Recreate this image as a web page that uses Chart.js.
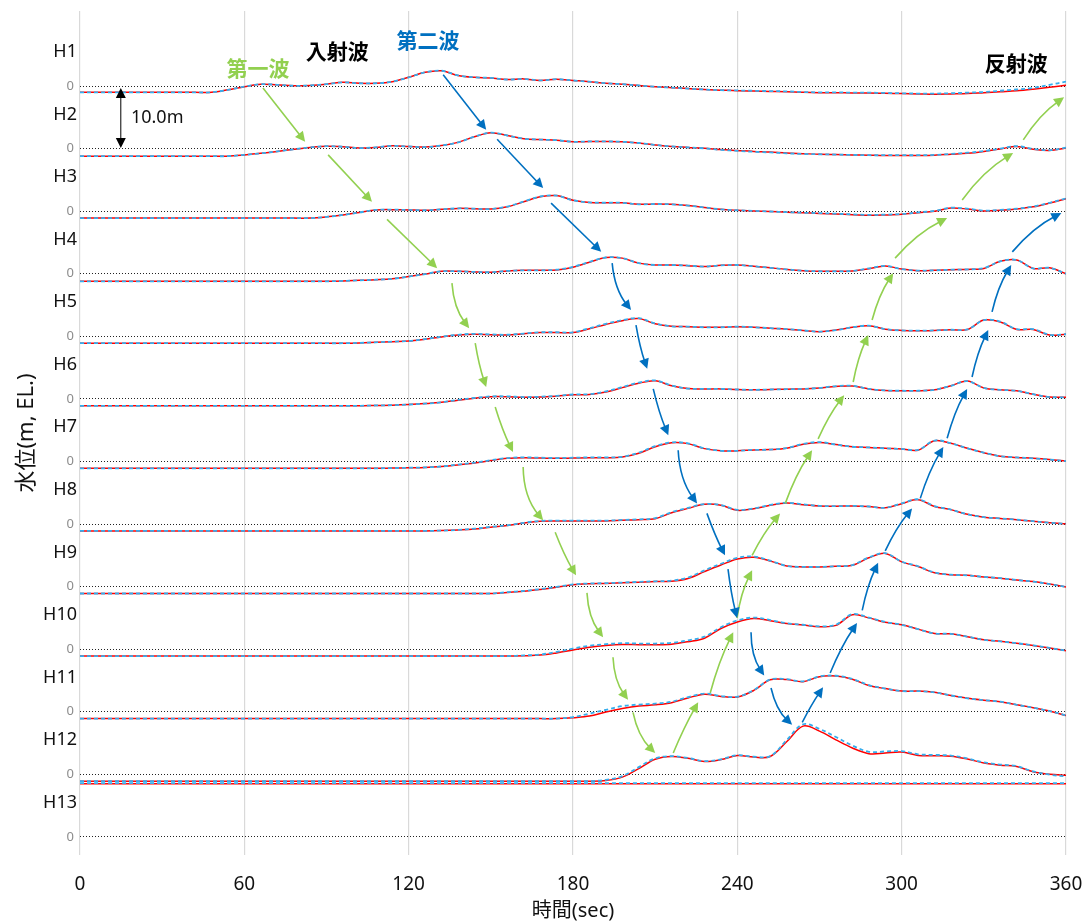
<!DOCTYPE html>
<html>
<head>
<meta charset="utf-8">
<script src="https://cdn.jsdelivr.net/npm/chart.js@4.4.1/dist/chart.umd.min.js"></script>
<style>
  body { margin: 0; background: #fff; }
  #wrap { width: 1084px; height: 923px; }
</style>
</head>
<body>
<div id="wrap"><canvas id="chart"></canvas></div>
<script>
const times = [
  0, 6, 12, 18, 24, 30, 36, 42, 48, 54,
  60, 66, 72, 78, 84, 90, 96, 102, 108, 114,
  120, 126, 132, 138, 144, 150, 156, 162, 168, 174,
  180, 186, 192, 198, 204, 210, 216, 222, 228, 234,
  240, 246, 252, 258, 264, 270, 276, 282, 288, 294,
  300, 306, 312, 318, 324, 330, 336, 342, 348, 354,
  360
];

const stations = ["H1", "H2", "H3", "H4", "H5", "H6", "H7", "H8", "H9", "H10", "H11", "H12", "H13"];
const offsets = [0, -10, -20, -30, -40, -50, -60, -70, -80, -90, -100, -110, -120];

const h1Red = [
  -1.0, -1.0, -1.0, -1.0, -1.0, -1.0, -1.0, -1.0, -1.0, -0.6,
  -0.1, 0.3, 0.2, 0.05, 0.1, 0.3, 0.6, 0.45, 0.45, 0.7,
  1.4, 2.2, 2.45, 1.7, 1.4, 1.3, 1.05, 1.15, 0.9, 1.1,
  0.9, 0.7, 0.45, 0.3, 0.1, -0.1, -0.25, -0.4, -0.55, -0.65,
  -0.75, -0.8, -0.85, -0.9, -1.0, -1.05, -1.05, -1.1, -1.1, -1.15,
  -1.2, -1.25, -1.3, -1.25, -1.2, -1.05, -0.9, -0.75, -0.5, -0.2,
  0.15
];
const h1Blue = [
  -1.0, -1.0, -1.0, -1.0, -1.0, -1.0, -1.0, -1.0, -1.0, -0.6,
  -0.1, 0.3, 0.2, 0.05, 0.1, 0.3, 0.6, 0.45, 0.45, 0.7,
  1.4, 2.2, 2.45, 1.7, 1.4, 1.3, 1.05, 1.15, 0.9, 1.1,
  0.9, 0.7, 0.45, 0.3, 0.1, -0.1, -0.25, -0.4, -0.55, -0.65,
  -0.7, -0.75, -0.8, -0.85, -0.95, -1.0, -1.0, -1.05, -1.05, -1.1,
  -1.15, -1.2, -1.2, -1.15, -1.05, -0.95, -0.75, -0.55, -0.3, 0.2,
  0.7
];
const h2Red = [
  -1.2, -1.2, -1.2, -1.2, -1.2, -1.2, -1.2, -1.2, -1.2, -1.2,
  -1.0, -0.75, -0.45, -0.1, 0.2, 0.4, 0.3, 0.1, 0.2, 0.45,
  0.35, 0.25, 0.5, 1.0, 1.9, 2.55, 2.1, 1.6, 1.45, 1.35,
  1.1, 1.15, 1.15, 1.1, 0.9, 0.6, 0.35, 0.2, 0.05, -0.15,
  -0.3, -0.45, -0.55, -0.7, -0.8, -0.9, -0.95, -1.0, -1.05, -1.1,
  -1.1, -1.1, -1.05, -0.9, -0.75, -0.45, -0.05, 0.35, -0.1, -0.3,
  0.1
];
const h2Blue = [
  -1.2, -1.2, -1.2, -1.2, -1.2, -1.2, -1.2, -1.2, -1.2, -1.2,
  -1.0, -0.75, -0.45, -0.1, 0.2, 0.4, 0.3, 0.1, 0.2, 0.45,
  0.35, 0.25, 0.5, 1.0, 1.9, 2.55, 2.1, 1.6, 1.45, 1.35,
  1.1, 1.15, 1.15, 1.1, 0.9, 0.6, 0.35, 0.2, 0.05, -0.2,
  -0.35, -0.5, -0.6, -0.75, -0.85, -0.9, -0.95, -1.0, -1.05, -1.05,
  -1.05, -1.05, -1.0, -0.85, -0.65, -0.4, 0.0, 0.4, -0.05, -0.25,
  0.15
];
const h3Red = [
  -1.1, -1.1, -1.1, -1.1, -1.1, -1.1, -1.1, -1.1, -1.1, -1.1,
  -1.1, -1.1, -1.1, -1.1, -1.1, -0.9, -0.6, -0.2, 0.2, 0.25,
  0.2, 0.15, 0.3, 0.45, 0.4, 0.35, 0.7, 1.5, 2.3, 2.5,
  1.75, 1.4, 1.35, 1.35, 1.1, 1.15, 1.1, 0.9, 0.6, 0.3,
  0.15, 0.05, -0.05, -0.15, -0.25, -0.35, -0.45, -0.55, -0.65, -0.6,
  -0.5, -0.25, 0.0, 0.5, 0.35, 0.05, 0.15, 0.35, 0.7, 1.3,
  2.0
];
const h3Blue = [
  -1.1, -1.1, -1.1, -1.1, -1.1, -1.1, -1.1, -1.1, -1.1, -1.1,
  -1.1, -1.1, -1.1, -1.1, -1.1, -0.9, -0.6, -0.2, 0.2, 0.25,
  0.2, 0.15, 0.3, 0.45, 0.4, 0.35, 0.75, 1.55, 2.35, 2.5,
  1.75, 1.4, 1.35, 1.35, 1.1, 1.15, 1.1, 0.9, 0.6, 0.3,
  0.15, 0.05, -0.05, -0.15, -0.25, -0.3, -0.4, -0.5, -0.6, -0.55,
  -0.45, -0.2, 0.05, 0.55, 0.4, 0.1, 0.2, 0.4, 0.75, 1.35,
  2.05
];
const h4Red = [
  -1.2, -1.2, -1.2, -1.2, -1.2, -1.2, -1.2, -1.2, -1.2, -1.2,
  -1.2, -1.2, -1.2, -1.2, -1.2, -1.2, -1.15, -1.05, -0.95, -0.8,
  -0.45, -0.05, 0.4, 0.4, 0.3, 0.25, 0.45, 0.55, 0.55, 0.6,
  1.05, 1.85, 2.6, 2.5, 1.7, 1.4, 1.4, 1.3, 1.15, 1.35,
  1.4, 1.2, 0.95, 0.7, 0.5, 0.4, 0.4, 0.45, 0.8, 1.25,
  0.75, 0.5, 0.55, 0.65, 0.7, 0.85, 2.0, 2.2, 0.85, 0.95,
  0.0
];
const h4Blue = [
  -1.2, -1.2, -1.2, -1.2, -1.2, -1.2, -1.2, -1.2, -1.2, -1.2,
  -1.2, -1.2, -1.2, -1.2, -1.2, -1.2, -1.15, -1.05, -0.95, -0.8,
  -0.45, -0.05, 0.4, 0.4, 0.3, 0.25, 0.45, 0.55, 0.55, 0.65,
  1.1, 1.9, 2.6, 2.5, 1.7, 1.4, 1.4, 1.3, 1.15, 1.35,
  1.4, 1.2, 0.95, 0.7, 0.5, 0.4, 0.4, 0.45, 0.85, 1.25,
  0.75, 0.5, 0.55, 0.65, 0.7, 0.9, 2.0, 2.2, 0.85, 0.95,
  0.0
];
const h5Red = [
  -1.1, -1.1, -1.1, -1.1, -1.1, -1.1, -1.1, -1.1, -1.1, -1.1,
  -1.1, -1.1, -1.1, -1.1, -1.1, -1.1, -1.1, -1.05, -0.95, -0.85,
  -0.75, -0.45, -0.1, 0.2, 0.35, 0.25, 0.2, 0.4, 0.6, 0.6,
  0.6, 1.2, 1.9, 2.5, 2.85, 2.0, 1.6, 1.55, 1.45, 1.45,
  1.55, 1.45, 1.3, 1.15, 0.95, 0.75, 1.0, 1.45, 1.7, 1.15,
  0.95, 0.9, 0.95, 1.05, 1.1, 2.6, 2.3, 1.1, 1.1, 0.2,
  0.35
];
const h5Blue = [
  -1.1, -1.1, -1.1, -1.1, -1.1, -1.1, -1.1, -1.1, -1.1, -1.1,
  -1.1, -1.1, -1.1, -1.1, -1.1, -1.1, -1.1, -1.05, -0.95, -0.85,
  -0.75, -0.45, -0.05, 0.25, 0.4, 0.3, 0.25, 0.45, 0.65, 0.65,
  0.65, 1.3, 2.0, 2.6, 2.9, 2.05, 1.6, 1.55, 1.45, 1.45,
  1.55, 1.45, 1.3, 1.15, 0.95, 0.75, 1.0, 1.45, 1.7, 1.15,
  0.95, 0.9, 0.95, 1.05, 1.1, 2.6, 2.35, 1.15, 1.15, 0.25,
  0.35
];
const h6Red = [
  -1.1, -1.1, -1.1, -1.1, -1.1, -1.1, -1.1, -1.1, -1.1, -1.1,
  -1.1, -1.1, -1.1, -1.1, -1.1, -1.1, -1.1, -1.1, -1.05, -1.0,
  -0.9, -0.75, -0.55, -0.2, 0.1, 0.35, 0.35, 0.25, 0.3, 0.45,
  0.65, 0.7, 1.1, 1.8, 2.5, 2.9, 2.1, 1.65, 1.6, 1.6,
  1.5, 1.45, 1.5, 1.55, 1.6, 1.75, 2.0, 2.05, 1.6, 1.35,
  1.3, 1.3, 1.45, 2.1, 2.85, 1.75, 1.45, 1.3, 0.75, 0.3,
  0.25
];
const h6Blue = [
  -1.1, -1.1, -1.1, -1.1, -1.1, -1.1, -1.1, -1.1, -1.1, -1.1,
  -1.1, -1.1, -1.1, -1.1, -1.1, -1.1, -1.1, -1.1, -1.05, -1.0,
  -0.9, -0.75, -0.55, -0.15, 0.15, 0.4, 0.4, 0.3, 0.35, 0.5,
  0.7, 0.75, 1.2, 1.9, 2.6, 2.95, 2.15, 1.65, 1.6, 1.6,
  1.5, 1.45, 1.5, 1.55, 1.6, 1.75, 2.05, 2.1, 1.6, 1.35,
  1.3, 1.3, 1.45, 2.1, 2.85, 1.75, 1.45, 1.3, 0.75, 0.3,
  0.25
];
const h7Red = [
  -1.1, -1.1, -1.1, -1.1, -1.1, -1.1, -1.1, -1.1, -1.1, -1.1,
  -1.1, -1.1, -1.1, -1.1, -1.1, -1.1, -1.1, -1.1, -1.1, -1.05,
  -1.0, -0.95, -0.8, -0.55, -0.25, 0.15, 0.5, 0.6, 0.55, 0.5,
  0.55, 0.6, 0.6, 0.7, 1.3, 2.35, 3.0, 2.85, 2.05, 1.7,
  1.7, 1.85, 1.9, 2.1, 2.75, 3.05, 2.7, 2.35, 2.25, 2.1,
  2.0, 1.8, 3.3, 2.9, 2.1, 1.4, 0.85, 0.65, 0.5, 0.3,
  0.05
];
const h7Blue = [
  -1.1, -1.1, -1.1, -1.1, -1.1, -1.1, -1.1, -1.1, -1.1, -1.1,
  -1.1, -1.1, -1.1, -1.1, -1.1, -1.1, -1.1, -1.1, -1.1, -1.05,
  -1.0, -0.95, -0.8, -0.5, -0.2, 0.2, 0.55, 0.65, 0.6, 0.55,
  0.6, 0.65, 0.65, 0.75, 1.4, 2.45, 3.05, 2.9, 2.1, 1.7,
  1.7, 1.85, 1.9, 2.15, 2.8, 3.1, 2.7, 2.35, 2.25, 2.1,
  2.0, 1.85, 3.35, 2.9, 2.1, 1.4, 0.85, 0.65, 0.5, 0.3,
  0.05
];
const h8Red = [
  -1.1, -1.1, -1.1, -1.1, -1.1, -1.1, -1.1, -1.1, -1.1, -1.1,
  -1.1, -1.1, -1.1, -1.1, -1.1, -1.1, -1.1, -1.1, -1.1, -1.1,
  -1.1, -1.1, -1.05, -0.95, -0.8, -0.5, -0.25, 0.15, 0.45, 0.5,
  0.5, 0.5, 0.5, 0.6, 0.7, 0.85, 1.8, 2.5, 3.15, 3.0,
  2.2, 2.45, 3.0, 3.35, 3.1, 2.9, 2.85, 2.9, 2.8, 2.6,
  3.25, 3.9, 2.8, 2.3, 1.55, 1.1, 0.9, 0.7, 0.45, 0.2,
  0.05
];
const h8Blue = [
  -1.1, -1.1, -1.1, -1.1, -1.1, -1.1, -1.1, -1.1, -1.1, -1.1,
  -1.1, -1.1, -1.1, -1.1, -1.1, -1.1, -1.1, -1.1, -1.1, -1.1,
  -1.1, -1.1, -1.05, -0.95, -0.75, -0.45, -0.2, 0.2, 0.5, 0.55,
  0.55, 0.55, 0.55, 0.65, 0.75, 0.95, 1.9, 2.6, 3.2, 3.05,
  2.25, 2.5, 3.05, 3.4, 3.15, 2.9, 2.85, 2.9, 2.8, 2.6,
  3.3, 3.95, 2.85, 2.3, 1.55, 1.1, 0.9, 0.7, 0.45, 0.2,
  0.05
];
const h9Red = [
  -1.1, -1.1, -1.1, -1.1, -1.1, -1.1, -1.1, -1.1, -1.1, -1.1,
  -1.1, -1.1, -1.1, -1.1, -1.1, -1.1, -1.1, -1.1, -1.1, -1.1,
  -1.1, -1.1, -1.1, -1.1, -1.1, -1.1, -0.95, -0.75, -0.45, -0.1,
  0.3, 0.45, 0.5, 0.6, 0.7, 0.8, 0.85, 1.3, 2.4, 3.45,
  4.4, 4.7, 4.1, 3.3, 3.15, 3.15, 3.25, 3.4, 4.6, 5.3,
  3.95, 3.2, 2.2, 1.9, 1.8, 1.55, 1.35, 1.05, 0.8, 0.4,
  -0.05
];
const h9Blue = [
  -1.1, -1.1, -1.1, -1.1, -1.1, -1.1, -1.1, -1.1, -1.1, -1.1,
  -1.1, -1.1, -1.1, -1.1, -1.1, -1.1, -1.1, -1.1, -1.1, -1.1,
  -1.1, -1.1, -1.1, -1.1, -1.1, -1.1, -0.9, -0.7, -0.4, -0.05,
  0.35, 0.5, 0.55, 0.65, 0.75, 0.85, 0.95, 1.45, 2.6, 3.65,
  4.6, 4.8, 4.15, 3.3, 3.15, 3.15, 3.25, 3.45, 4.65, 5.35,
  4.0, 3.25, 2.25, 1.9, 1.8, 1.55, 1.35, 1.05, 0.8, 0.4,
  -0.05
];
const h10Red = [
  -1.1, -1.1, -1.1, -1.1, -1.1, -1.1, -1.1, -1.1, -1.1, -1.1,
  -1.1, -1.1, -1.1, -1.1, -1.1, -1.1, -1.1, -1.1, -1.1, -1.1,
  -1.1, -1.1, -1.1, -1.1, -1.1, -1.1, -1.1, -1.05, -0.95, -0.6,
  -0.15, 0.3, 0.6, 0.75, 0.7, 0.7, 0.8, 1.2, 1.75, 3.3,
  4.35, 4.9, 4.55, 4.1, 3.85, 3.6, 3.8, 5.5, 5.0, 4.3,
  3.9, 3.2, 2.5, 2.45, 2.0, 1.5, 1.25, 0.95, 0.6, 0.2,
  -0.25
];
const h10Blue = [
  -1.1, -1.1, -1.1, -1.1, -1.1, -1.1, -1.1, -1.1, -1.1, -1.1,
  -1.1, -1.1, -1.1, -1.1, -1.1, -1.1, -1.1, -1.1, -1.1, -1.1,
  -1.1, -1.1, -1.1, -1.1, -1.1, -1.1, -1.1, -1.0, -0.85, -0.45,
  0.1, 0.55, 0.8, 0.95, 0.9, 0.9, 1.0, 1.4, 2.0, 3.5,
  4.6, 5.05, 4.65, 4.15, 3.9, 3.65, 3.9, 5.6, 5.05, 4.35,
  3.9, 3.2, 2.5, 2.45, 2.0, 1.5, 1.25, 0.95, 0.6, 0.2,
  -0.25
];
const h11Red = [
  -1.1, -1.1, -1.1, -1.1, -1.1, -1.1, -1.1, -1.1, -1.1, -1.1,
  -1.1, -1.1, -1.1, -1.1, -1.1, -1.1, -1.1, -1.1, -1.1, -1.1,
  -1.1, -1.1, -1.1, -1.1, -1.1, -1.1, -1.1, -1.1, -1.1, -1.1,
  -0.95, -0.7, -0.05, 0.5, 0.9, 1.1, 1.45, 2.2, 2.8, 2.45,
  2.35, 3.4, 5.1, 5.15, 4.8, 5.6, 5.7, 5.2, 4.2, 3.7,
  3.3, 3.3, 3.1, 2.6, 2.15, 1.85, 1.6, 1.1, 0.65, 0.1,
  -0.6
];
const h11Blue = [
  -1.1, -1.1, -1.1, -1.1, -1.1, -1.1, -1.1, -1.1, -1.1, -1.1,
  -1.1, -1.1, -1.1, -1.1, -1.1, -1.1, -1.1, -1.1, -1.1, -1.1,
  -1.1, -1.1, -1.1, -1.1, -1.1, -1.1, -1.1, -1.1, -1.1, -1.1,
  -0.85, -0.3, 0.3, 0.9, 1.15, 1.3, 1.6, 2.35, 2.9, 2.5,
  2.4, 3.45, 5.15, 5.2, 4.85, 5.65, 5.75, 5.25, 4.25, 3.7,
  3.3, 3.3, 3.1, 2.6, 2.15, 1.85, 1.6, 1.1, 0.65, 0.1,
  -0.6
];
const h12Red = [
  -1.1, -1.1, -1.1, -1.1, -1.1, -1.1, -1.1, -1.1, -1.1, -1.1,
  -1.1, -1.1, -1.1, -1.1, -1.1, -1.1, -1.1, -1.1, -1.1, -1.1,
  -1.1, -1.1, -1.1, -1.1, -1.1, -1.1, -1.1, -1.1, -1.1, -1.1,
  -1.1, -1.1, -1.0, -0.45, 0.9, 2.4, 2.85, 2.55, 2.05, 2.35,
  3.0, 2.75, 2.85, 5.2, 7.7, 6.9, 5.5, 4.2, 3.3, 3.4,
  3.55, 3.0, 2.95, 2.9, 2.45, 1.8, 1.45, 1.25, 0.4, 0.0,
  -0.15
];
const h12Blue = [
  -1.1, -1.1, -1.1, -1.1, -1.1, -1.1, -1.1, -1.1, -1.1, -1.1,
  -1.1, -1.1, -1.1, -1.1, -1.1, -1.1, -1.1, -1.1, -1.1, -1.1,
  -1.1, -1.1, -1.1, -1.1, -1.1, -1.1, -1.1, -1.1, -1.1, -1.1,
  -1.1, -1.1, -0.9, -0.3, 1.15, 2.55, 2.9, 2.6, 2.1, 2.4,
  3.05, 2.8, 2.9, 5.45, 8.0, 7.25, 5.95, 4.6, 3.6, 3.65,
  3.7, 3.2, 3.1, 3.0, 2.55, 1.9, 1.55, 1.3, 0.45, -0.05,
  -0.35
];
const h13Times = [0, 360];
const h13Red = [8.5, 8.5];
const h13Blue = [8.6, 8.6];

const redSeries = [h1Red, h2Red, h3Red, h4Red, h5Red, h6Red, h7Red, h8Red, h9Red, h10Red, h11Red, h12Red, h13Red];
const blueSeries = [h1Blue, h2Blue, h3Blue, h4Blue, h5Blue, h6Blue, h7Blue, h8Blue, h9Blue, h10Blue, h11Blue, h12Blue, h13Blue];
const seriesTimes = [times, times, times, times, times, times, times, times, times, times, times, times, h13Times];

// arrows: [t0, level0, t1, level1, bend]
const greenArrows = [
  [66.8, -0.3, 82.2, -8.9, 0], [90.6, -11.0, 106.6, -18.5, 0], [112.1, -21.3, 130.4, -29.1, 0],
  [135.8, -31.5, 142.1, -38.7, 0.15], [144.3, -41.1, 148.3, -48.1, 0.04], [151.6, -51.3, 158.1, -58.5, 0.04],
  [161.8, -60.9, 169.1, -69.4, 0.18], [173.5, -71.3, 181.1, -78.2, 0.04], [185.1, -81.0, 191.0, -88.1, 0.15],
  [194.6, -91.3, 200.1, -98.1, 0.15], [201.9, -100.1, 210.0, -106.6, 0.15],
  [216.6, -106.6, 225.7, -98.5, -0.03], [230.1, -97.0, 238.5, -87.3, -0.05], [239.9, -85.0, 245.4, -77.4, -0.08],
  [245.4, -75.0, 255.6, -68.3, -0.06], [257.5, -66.7, 267.3, -58.2, -0.06], [269.5, -56.4, 279.0, -49.4, -0.06],
  [282.3, -47.3, 287.8, -39.8, -0.06], [289.2, -37.4, 296.9, -29.9, -0.08], [297.6, -27.5, 316.6, -21.1, -0.1],
  [322.1, -18.2, 340.7, -10.7, -0.1], [344.4, -8.6, 359.3, -1.8, -0.1]
];
const blueArrows = [
  [132.6, 1.8, 148.3, -7.0, 0], [152.3, -8.5, 169.1, -16.3, 0], [172.0, -18.7, 190.3, -26.5, 0],
  [194.3, -28.3, 201.2, -35.8, 0.15], [203.0, -38.2, 207.1, -45.2, 0.04], [209.3, -48.4, 214.8, -55.8, 0.04],
  [218.4, -58.2, 225.3, -66.7, 0.15], [228.9, -68.3, 235.5, -75.0, 0.03], [236.6, -77.2, 239.9, -85.0, 0.03],
  [245.0, -87.3, 249.8, -94.2, 0.15], [252.3, -96.2, 260.0, -102.1, 0.15],
  [263.7, -101.7, 271.3, -96.1, -0.03], [273.9, -93.8, 283.7, -85.8, -0.05], [285.6, -83.8, 291.4, -76.2, -0.06],
  [294.0, -74.3, 303.8, -67.5, -0.06], [306.8, -65.9, 315.2, -57.7, -0.06], [316.6, -56.3, 323.9, -48.4, -0.06],
  [325.7, -46.5, 331.6, -39.0, -0.06], [333.0, -36.1, 340.0, -28.6, -0.08], [340.4, -26.5, 358.3, -20.3, -0.1]
];

const waveNames = ["第一波", "入射波", "第二波", "反射波"];
const waveTimes = [65, 93.9, 127.1, 341.8];
const waveLevels = [2.9, 5.6, 7.35, 3.7];
const waveColors = ["#92d050", "#000000", "#0070c0", "#000000"];

const scaleBar = { t: 14.9, from: -0.3, to: -9.9, text: "10.0m", textT: 18.6 };
const labelLift = 5.45;

Chart.defaults.font.family = "'Noto Sans', 'Noto Sans CJK JP', sans-serif";
Chart.defaults.color = "#111";

const datasets = [];
stations.forEach((name, i) => {
  datasets.push({
    label: name + " 計算",
    data: seriesTimes[i].map((t, k) => ({ x: t, y: redSeries[i][k] + offsets[i] })),
    borderColor: "#ff0000",
    borderWidth: 1.5,
    pointRadius: 0,
    tension: 0.35,
    order: 1,
  });
  datasets.push({
    label: name + " 観測",
    data: seriesTimes[i].map((t, k) => ({ x: t, y: blueSeries[i][k] + offsets[i] })),
    borderColor: "#35aeee",
    borderWidth: 1.8,
    borderDash: [4, 3],
    pointRadius: 0,
    tension: 0.35,
    order: 0,
  });
});

function drawArrow(ctx, x0, y0, x1, y1, bend, color) {
  const dx = x1 - x0, dy = y1 - y0;
  const cx = (x0 + x1) / 2 - bend * dy;
  const cy = (y0 + y1) / 2 + bend * dx;
  const a = Math.atan2(y1 - cy, x1 - cx);
  const head = 10, half = 5;
  const c = Math.cos(a), s = Math.sin(a);
  ctx.strokeStyle = color;
  ctx.fillStyle = color;
  ctx.lineWidth = 1.6;
  ctx.beginPath();
  ctx.moveTo(x0, y0);
  ctx.quadraticCurveTo(cx, cy, x1 - c * head * 0.7, y1 - s * head * 0.7);
  ctx.stroke();
  ctx.beginPath();
  ctx.moveTo(x1, y1);
  ctx.lineTo(x1 - head * c + half * s, y1 - head * s - half * c);
  ctx.lineTo(x1 - head * c - half * s, y1 - head * s + half * c);
  ctx.closePath();
  ctx.fill();
}

const overlay = {
  id: "overlay",
  afterDatasetsDraw(chart) {
    const { ctx, chartArea, scales: { x, y } } = chart;
    ctx.save();

    ctx.font = "18px 'Noto Sans', sans-serif";
    ctx.fillStyle = "#111";
    ctx.textAlign = "right";
    ctx.textBaseline = "middle";
    stations.forEach((s, i) => {
      ctx.fillText(s, chartArea.left - 3, y.getPixelForValue(offsets[i] + labelLift));
    });

    greenArrows.forEach((a) => {
      drawArrow(ctx, x.getPixelForValue(a[0]), y.getPixelForValue(a[1]), x.getPixelForValue(a[2]), y.getPixelForValue(a[3]), a[4], "#92d050");
    });
    blueArrows.forEach((a) => {
      drawArrow(ctx, x.getPixelForValue(a[0]), y.getPixelForValue(a[1]), x.getPixelForValue(a[2]), y.getPixelForValue(a[3]), a[4], "#0070c0");
    });

    ctx.textAlign = "center";
    ctx.font = "bold 21px 'Noto Sans CJK JP', sans-serif";
    waveNames.forEach((w, i) => {
      ctx.fillStyle = waveColors[i];
      ctx.fillText(w, x.getPixelForValue(waveTimes[i]), y.getPixelForValue(waveLevels[i]));
    });

    const bx = x.getPixelForValue(scaleBar.t);
    const by0 = y.getPixelForValue(scaleBar.from);
    const by1 = y.getPixelForValue(scaleBar.to);
    ctx.strokeStyle = "#000";
    ctx.fillStyle = "#000";
    ctx.lineWidth = 1;
    ctx.beginPath();
    ctx.moveTo(bx, by0 + 8);
    ctx.lineTo(bx, by1 - 8);
    ctx.stroke();
    [[by0, 1], [by1, -1]].forEach(([py, dir]) => {
      ctx.beginPath();
      ctx.moveTo(bx, py);
      ctx.lineTo(bx - 5, py + dir * 10);
      ctx.lineTo(bx + 5, py + dir * 10);
      ctx.closePath();
      ctx.fill();
    });
    ctx.font = "18px 'Noto Sans', sans-serif";
    ctx.fillStyle = "#111";
    ctx.textAlign = "left";
    ctx.fillText(scaleBar.text, x.getPixelForValue(scaleBar.textT), (by0 + by1) / 2);

    ctx.restore();
  },
};

new Chart(document.getElementById("chart"), {
  type: "line",
  data: { datasets },
  options: {
    responsive: true,
    maintainAspectRatio: false,
    animation: false,
    layout: { autoPadding: false, padding: { top: 11, right: 18, left: 0, bottom: 0 } },
    plugins: {
      legend: { display: false },
      tooltip: { enabled: false },
    },
    scales: {
      x: {
        type: "linear",
        min: 0,
        max: 360,
        afterFit: (s) => { s.height = 68; s.paddingLeft = 0; s.paddingRight = 0; },
        ticks: { stepSize: 60, font: { size: 19 }, color: "#111", padding: 18, maxRotation: 0 },
        grid: { color: "#d9d9d9", lineWidth: 1.2, drawTicks: false },
        border: { display: false },
        title: { display: true, text: "時間(sec)", font: { size: 20 }, color: "#111", padding: { top: 0, bottom: 0 } },
      },
      y: {
        type: "linear",
        min: -122.9,
        max: 12,
        afterFit: (s) => { s.width = 80; s.paddingTop = 0; s.paddingBottom = 0; },
        afterBuildTicks: (s) => { s.ticks = offsets.map((v) => ({ value: v })); },
        ticks: { callback: () => "0", color: "#8c8c8c", font: { size: 13 }, padding: 6 },
        grid: { color: "#222", lineWidth: 1, drawTicks: false },
        border: { display: false, dash: [1, 2] },
        title: { display: true, text: "水位(m, EL.)", font: { size: 22 }, color: "#111", padding: { top: 14, bottom: 0 } },
      },
    },
  },
  plugins: [overlay],
});
</script>
</body>
</html>
